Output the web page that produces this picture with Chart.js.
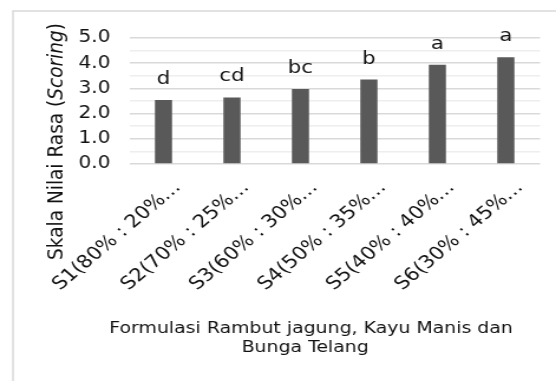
<!DOCTYPE html>
<html>
<head>
<meta charset="utf-8">
<script src="https://cdn.jsdelivr.net/npm/chart.js@4/dist/chart.umd.min.js"></script>
<style>
  html, body { margin: 0; padding: 0; background: #ffffff; overflow: hidden; }
  #wrap { width: 556px; height: 381px; position: relative; }
  /* the chart is drawn on a narrower canvas and widened to the page width */
  #chart { display: block; width: 556px; height: 381px; }
</style>
</head>
<body>
<div id="wrap"><canvas id="chart" width="471" height="381" style="width:556px;height:381px"></canvas></div>
<script>
// Formulation labels (as shown, shortened), mean taste scores and Duncan letters
const categories = ['S1(80% : 20%…', 'S2(70% : 25%…', 'S3(60% : 30%…', 'S4(50% : 35%…', 'S5(40% : 40%…', 'S6(30% : 45%…'];
const rasaScores = [2.54, 2.64, 2.98, 3.35, 3.94, 4.24];
const notasiHuruf = ['d', 'cd', 'bc', 'b', 'a', 'a'];
const yTickLabels = ['0.0', '1.0', '2.0', '3.0', '4.0', '5.0'];
const xTitleLines = ['Formulasi Rambut jagung, Kayu Manis dan', 'Bunga Telang'];
const yTitleParts = [
  { text: 'Skala Nilai Rasa (', italic: false },
  { text: 'Scoring', italic: true },
  { text: ')', italic: false }
];

const FONT = '"DejaVu Sans", Verdana, sans-serif';
const TEXT = '#111111';

// light frame around the chart (left and top edges)
const framePlugin = {
  id: 'frame',
  beforeDraw(chart) {
    const ctx = chart.ctx;
    ctx.save();
    ctx.strokeStyle = '#d9d9d9';
    ctx.lineWidth = 1.5;
    ctx.beginPath();
    ctx.moveTo(11, 381);
    ctx.lineTo(11, 11);
    ctx.lineTo(chart.width, 11);
    ctx.stroke();
    ctx.restore();
  }
};

// significance letters above each bar
const letterPlugin = {
  id: 'letters',
  afterDatasetsDraw(chart) {
    const ctx = chart.ctx;
    const meta = chart.getDatasetMeta(0);
    ctx.save();
    ctx.font = '18px ' + FONT;
    ctx.fillStyle = TEXT;
    ctx.textAlign = 'center';
    ctx.textBaseline = 'alphabetic';
    meta.data.forEach((bar, i) => {
      ctx.fillText(notasiHuruf[i], bar.x, bar.y - 16);
    });
    ctx.restore();
  }
};

// axis titles (y title mixes upright and italic text)
const titlePlugin = {
  id: 'axisTitles',
  afterDraw(chart) {
    const ctx = chart.ctx;
    ctx.save();
    ctx.fillStyle = TEXT;
    // x title, two lines
    ctx.font = '16px ' + FONT;
    ctx.textAlign = 'center';
    ctx.textBaseline = 'alphabetic';
    ctx.fillText(xTitleLines[0], 263.5, 333);
    ctx.fillText(xTitleLines[1], 258.5, 352);

    // y title, rotated
    const fontOf = p => (p.italic ? 'italic ' : '') + '18.5px ' + FONT;
    let total = 0;
    yTitleParts.forEach(p => { ctx.font = fontOf(p); total += ctx.measureText(p.text).width; });
    ctx.translate(48.5, 141.5);
    ctx.rotate(-Math.PI / 2);
    ctx.textAlign = 'left';
    ctx.textBaseline = 'middle';
    let x = -total / 2;
    yTitleParts.forEach(p => {
      ctx.font = fontOf(p);
      ctx.fillText(p.text, x, 0);
      x += ctx.measureText(p.text).width;
    });
    ctx.restore();
  }
};

new Chart(document.getElementById('chart'), {
  type: 'bar',
  data: {
    labels: categories,
    datasets: [{
      data: rasaScores,
      backgroundColor: '#595959',
      borderWidth: 0,
      barPercentage: 0.25,
      categoryPercentage: 1.0
    }]
  },
  options: {
    responsive: false,
    devicePixelRatio: 1,
    animation: false,
    layout: { padding: { left: 0, right: 13.5, top: 38, bottom: 0 } },
    plugins: { legend: { display: false }, tooltip: { enabled: false } },
    scales: {
      x: {
        grid: { display: false },
        border: { display: false },
        ticks: {
          autoSkip: false,
          minRotation: 45,
          maxRotation: 45,
          labelOffset: 12,
          padding: 5,
          color: TEXT,
          font: { family: FONT, size: 18 }
        },
        afterFit(scale) { scale.height = 217; }
      },
      y: {
        min: 0,
        max: 5,
        border: { display: false },
        grid: {
          drawTicks: false,
          color: ctx => Number.isInteger(ctx.tick.value) ? '#d9d9d9' : '#eeeeee',
          lineWidth: 1.5
        },
        ticks: {
          stepSize: 0.5,
          autoSkip: false,
          padding: 16,
          color: TEXT,
          font: { family: FONT, size: 17 },
          callback: v => Number.isInteger(v) ? yTickLabels[v] : ''
        },
        afterFit(scale) { scale.width = 109.5; }
      }
    }
  },
  plugins: [framePlugin, letterPlugin, titlePlugin]
});
</script>
</body>
</html>
